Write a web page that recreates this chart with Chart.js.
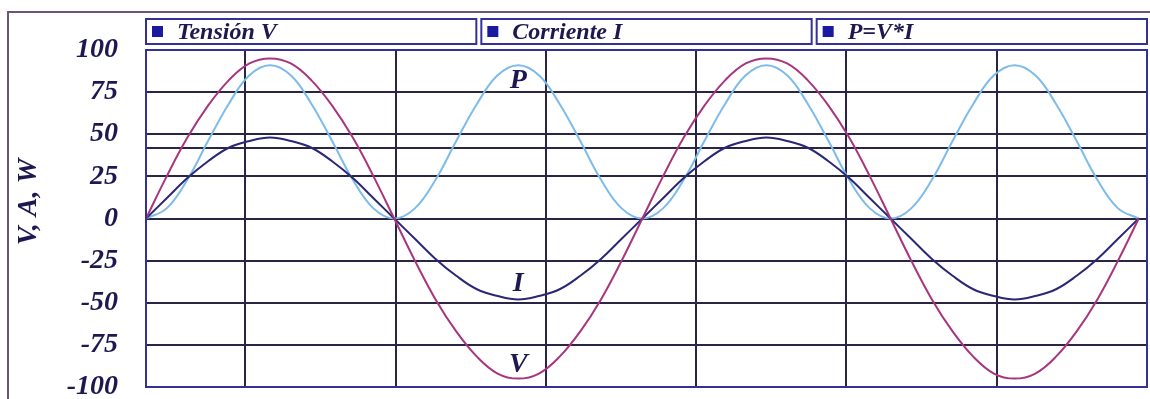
<!DOCTYPE html>
<html>
<head>
<meta charset="utf-8">
<script src="https://cdn.jsdelivr.net/npm/chart.js@4/dist/chart.umd.min.js"></script>
<style>
body{margin:0;background:#fff;}
#wrap{position:relative;width:1150px;height:399px;}
</style>
</head>
<body>
<div id="wrap"><canvas id="grafico"></canvas></div>
<script>

// ---------------------
// DATOS
// ---------------------

const angulos=[0,15,30,45,60,75,90,105,120,135,150,165,180,195,210,225,240,255,270,285,300,315,330,345,360,
375,390,405,420,435,450,465,480,495,510,525,540,555,570,585,600,615,630,645,660,675,690,705,720];

const tension=[0,25,48,67,82,92,95,92,82,67,48,25,0,-25,-48,-67,-82,-92,-95,-92,-82,-67,-48,-25,0,
25,48,67,82,92,95,92,82,67,48,25,0,-25,-48,-67,-82,-92,-95,-92,-82,-67,-48,-25,0];

const corriente=[0,12,24,34,42,46,48,46,42,34,24,12,0,-12,-24,-34,-42,-46,-48,-46,-42,-34,-24,-12,0,
12,24,34,42,46,48,46,42,34,24,12,0,-12,-24,-34,-42,-46,-48,-46,-42,-34,-24,-12,0];

const potencia=[0,6,23,46,68,85,91,85,68,46,23,6,0,6,23,46,68,85,91,85,68,46,23,6,0,
6,23,46,68,85,91,85,68,46,23,6,0,6,23,46,68,85,91,85,68,46,23,6,0];

const nombres=["Tensión V","Corriente I","P=V*I"];

const ticksY=[-100,-75,-50,-25,0,25,50,75,100];
const lineaExtra=42;
const gridX=[72,181,290,399,508,617];
const maxX=726;

const etiquetas=[
    {texto:"P",x:270,y:82},
    {texto:"I",x:270,y:-39},
    {texto:"V",x:270,y:-87}
];

const fuente="'Liberation Serif','Times New Roman',serif";
const azulTexto="#1e1850";

// ---------------------
// PLUGIN: MARCO, LEYENDA, TITULO
// ---------------------

const marco={
    id:"marco",
    beforeDraw(chart){
        const ctx=chart.ctx;
        ctx.save();
        ctx.fillStyle="#fff";
        ctx.fillRect(0,0,chart.width,chart.height);
        ctx.strokeStyle="#65587c";
        ctx.lineWidth=2;
        ctx.beginPath();
        ctx.moveTo(8,chart.height);
        ctx.lineTo(8,12);
        ctx.lineTo(chart.width,12);
        ctx.stroke();
        ctx.restore();
    },
    afterDatasetsDraw(chart){
        const ctx=chart.ctx;
        const a=chart.chartArea;
        const x=chart.scales.x;
        const y=chart.scales.y;

        ctx.save();

        // etiquetas P, I, V
        ctx.fillStyle=azulTexto;
        ctx.font="italic bold 28px "+fuente;
        ctx.textAlign="center";
        ctx.textBaseline="middle";
        etiquetas.forEach(e=>{
            ctx.fillText(e.texto,x.getPixelForValue(e.x),y.getPixelForValue(e.y));
        });

        // borde del area
        ctx.strokeStyle="#34309a";
        ctx.lineWidth=2;
        ctx.strokeRect(a.left,a.top,a.right-a.left,a.bottom-a.top);

        // leyenda en cajas
        const gap=5;
        const w=(a.right-a.left-2*gap)/3;
        const top=19, h=25;
        chart.data.datasets.forEach((ds,i)=>{
            const bx=a.left+i*(w+gap);
            ctx.strokeStyle="#34309a";
            ctx.lineWidth=2;
            ctx.strokeRect(bx,top,w,h);
            ctx.fillStyle="#1a1aa0";
            ctx.fillRect(bx+6,top+7,11,11);
            ctx.fillStyle=azulTexto;
            ctx.font="italic bold 24px "+fuente;
            ctx.textAlign="left";
            ctx.textBaseline="middle";
            ctx.fillText(ds.label,bx+31,top+h/2+1);
        });

        // titulo eje Y
        ctx.translate(29,202);
        ctx.rotate(-Math.PI/2);
        ctx.font="italic bold 28px "+fuente;
        ctx.textAlign="center";
        ctx.textBaseline="middle";
        ctx.fillText("V, A, W",0,0);

        ctx.restore();
    }
};

// ---------------------
// GRAFICO
// ---------------------

new Chart(document.getElementById("grafico"),{

    type:"line",

    data:{
        labels:angulos,
        datasets:[
            {label:nombres[0],data:tension,borderColor:"#a8357f",borderWidth:2},
            {label:nombres[1],data:corriente,borderColor:"#2a2874",borderWidth:2},
            {label:nombres[2],data:potencia,borderColor:"#7dbbea",borderWidth:2}
        ]
    },

    options:{
        responsive:true,
        maintainAspectRatio:false,
        animation:false,
        layout:{padding:{top:50,bottom:12,right:3,left:0}},
        elements:{
            point:{radius:0},
            line:{tension:0.4}
        },
        plugins:{
            legend:{display:false},
            tooltip:{enabled:false}
        },
        scales:{
            x:{
                type:"linear",
                min:0,
                max:maxX,
                afterBuildTicks:axis=>{axis.ticks=gridX.map(v=>({value:v}));},
                afterFit:axis=>{axis.height=0;},
                ticks:{display:false,padding:0},
                grid:{color:"#2a2545",lineWidth:2,drawTicks:false},
                border:{display:false}
            },
            y:{
                min:-100,
                max:100,
                afterBuildTicks:axis=>{
                    axis.ticks=ticksY.map(v=>({value:v}));
                    axis.ticks.push({value:lineaExtra});
                },
                afterFit:axis=>{axis.width=146;},
                ticks:{
                    autoSkip:false,
                    padding:0,
                    color:azulTexto,
                    font:{family:fuente,size:28,style:"italic",weight:"bold",lineHeight:0.85},
                    callback:v=>v===lineaExtra?"":String(v)
                },
                grid:{color:"#2a2545",lineWidth:2,drawTicks:true,tickLength:28,tickColor:"rgba(0,0,0,0)"},
                border:{display:false}
            }
        }
    },

    plugins:[marco]

});

</script>
</body>
</html>
